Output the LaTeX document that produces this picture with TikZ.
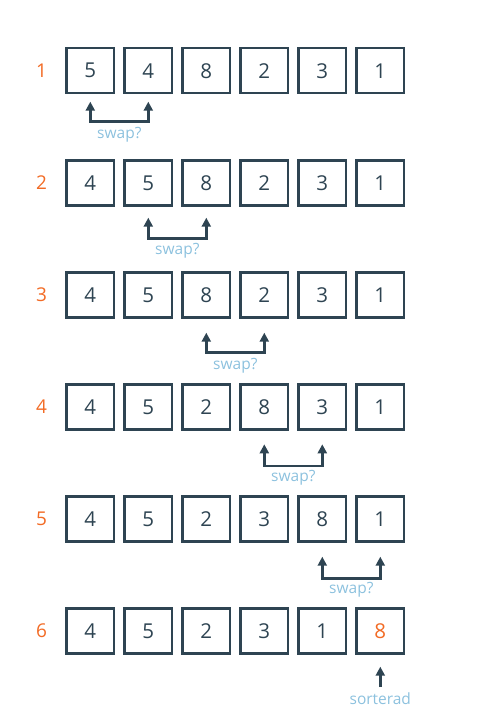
\documentclass[tikz,border=0pt]{standalone}
\usepackage{fontspec}
\setmainfont{Open Sans}
\usetikzlibrary{arrows.meta}
\definecolor{dk}{HTML}{2E4452}
\definecolor{org}{HTML}{F26B25}
\definecolor{lb}{HTML}{8CC1DE}
\tikzset{
  cell/.style={draw=dk, line width=2.5pt, minimum width=47.5pt, minimum height=45pt, inner sep=0pt, text=dk, font=\fontsize{20.5}{24}\selectfont},
  rowlab/.style={text=org, font=\fontsize{19}{22}\selectfont, inner sep=0pt},
  hint/.style={text=lb, font=\fontsize{15.5}{18}\selectfont, inner sep=0pt},
  conn/.style={draw=dk, line width=2.5pt, -{Triangle[length=9pt,width=9pt]}},
}
\begin{document}
\begin{tikzpicture}[x=1pt,y=-1pt]
\useasboundingbox (0,0) rectangle (477,720);
% rows
\foreach \r/\vals in {1/{5,4,8,2,3,1},2/{4,5,8,2,3,1},3/{4,5,8,2,3,1},4/{4,5,2,8,3,1},5/{4,5,2,3,8,1},6/{4,5,2,3,1,8}}{
  \pgfmathsetmacro{\yy}{70.7+112.1*(\r-1)}
  \node[rowlab] (L\r) at (41.5,\yy) {\r};
  \foreach \v [count=\i from 0] in \vals {
    \pgfmathsetmacro{\xx}{90.3+58*\i}
    \ifnum\r=6 \ifnum\i=5
      \node[cell, text=org] (c\r-\i) at (\xx,\yy) {\v};
    \else
      \node[cell] (c\r-\i) at (\xx,\yy) {\v};
    \fi\else
      \node[cell] (c\r-\i) at (\xx,\yy) {\v};
    \fi
  }
}
% swap connectors: row / left index / tip y / bar y / text y
\foreach \r/\a/\ty/\by/\sy in {1/0/101.7/121.7/135,2/1/217.7/238.3/250.5,3/2/332.7/352.7/366,4/3/444.3/466/478,5/4/556.7/578.3/589.5}{
  \pgfmathtruncatemacro{\b}{\a+1}
  \pgfmathsetmacro{\xa}{90.3+58*\a}
  \pgfmathsetmacro{\xb}{90.3+58*\b}
  \coordinate (ta\r) at (\xa,\ty);
  \coordinate (tb\r) at (\xb,\ty);
  \coordinate (ba\r) at (\xa,\by);
  \coordinate (bb\r) at (\xb,\by);
  \draw[conn, {Triangle[length=9pt,width=9pt]}-{Triangle[length=9pt,width=9pt]}, line join=miter] (ta\r) -- (ba\r) -- (bb\r) -- (tb\r);
  \node[hint] (s\r) at ({(\xa+\xb)/2},\sy) {swap?};
}
\coordinate (st) at (380.3,666.7);
\coordinate (sb) at (380.3,687);
\draw[conn] (sb) -- (st);
\node[hint] (sort) at (380.3,699) {sorterad};
\end{tikzpicture}
\end{document}
